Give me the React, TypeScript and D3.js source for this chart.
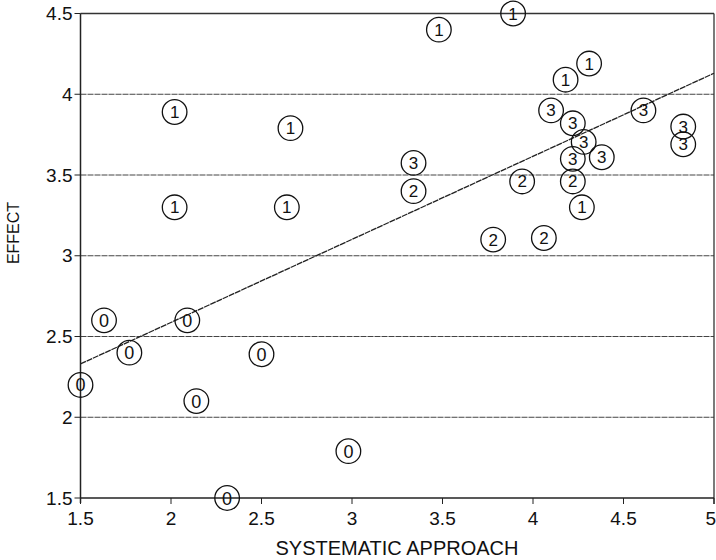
import React from "react";
import * as d3 from "d3";

const xTicks = [1.5, 2, 2.5, 3, 3.5, 4, 4.5, 5];
const yTicks = [1.5, 2, 2.5, 3, 3.5, 4, 4.5];
const gridValues = [2, 2.5, 3, 3.5, 4];

// points: [systematic approach, effect, group label]
const group0X = [1.63, 2.09, 1.77, 2.5, 1.5, 2.14, 2.98, 2.31];
const group0Y = [2.6, 2.6, 2.4, 2.39, 2.2, 2.1, 1.79, 1.5];
const group1X = [3.89, 3.48, 2.02, 2.66, 2.02, 2.64, 4.31, 4.18, 4.27];
const group1Y = [4.5, 4.4, 3.89, 3.79, 3.3, 3.3, 4.19, 4.09, 3.3];
const group2X = [3.34, 3.94, 4.22, 3.78, 4.06];
const group2Y = [3.4, 3.46, 3.46, 3.1, 3.11];
const group3X = [3.34, 4.1, 4.22, 4.28, 4.22, 4.38, 4.61, 4.83, 4.83];
const group3Y = [3.575, 3.9, 3.82, 3.705, 3.6, 3.61, 3.9, 3.8, 3.69];

const fitX = [1.5, 5];
const fitY = [2.33, 4.13];

const xLabel = "SYSTEMATIC APPROACH";
const yLabel = "EFFECT";

export default function App() {
  const W = 716, H = 560;
  const left = 80.5, right = 714, top = 13.5, bottom = 498;
  const x = d3.scaleLinear().domain([1.5, 5]).range([left, right]);
  const y = d3.scaleLinear().domain([1.5, 4.5]).range([bottom, top]);
  const font = "'Liberation Sans', Arial, Helvetica, sans-serif";

  const groups = [
    { label: "0", xs: group0X, ys: group0Y },
    { label: "1", xs: group1X, ys: group1Y },
    { label: "2", xs: group2X, ys: group2Y },
    { label: "3", xs: group3X, ys: group3Y },
  ];

  const line = d3
    .line<number>()
    .x((d, i) => x(fitX[i]))
    .y((d) => y(d));

  return (
    <svg
      width={W}
      height={H}
      style={{ position: "absolute", left: 0, top: 0, background: "#fff" }}
      fontFamily={font}
    >
      {/* grid lines */}
      {gridValues.map((v) => (
        <line
          key={"g" + v}
          x1={left}
          x2={right}
          y1={y(v)}
          y2={y(v)}
          stroke="#444"
          strokeWidth={1}
          strokeDasharray="6,1"
        />
      ))}
      {/* frame */}
      <line x1={left} x2={right} y1={top} y2={top} stroke="#333" strokeWidth={1.3} />
      <line x1={right} x2={right} y1={top} y2={bottom + 6} stroke="#333" strokeWidth={1.3} />
      <line x1={left} x2={right} y1={bottom} y2={bottom} stroke="#222" strokeWidth={1.5} />
      <line x1={left} x2={left} y1={top} y2={bottom + 5} stroke="#222" strokeWidth={1.5} />
      {/* y ticks */}
      {yTicks.map((v) => (
        <g key={"yt" + v}>
          <line x1={left - 6} x2={left} y1={y(v)} y2={y(v)} stroke="#222" strokeWidth={1} />
          <text
            x={left - 8}
            y={y(v)}
            textAnchor="end"
            dominantBaseline="central"
            fontSize={19}
            fill="#111"
          >
            {String(v)}
          </text>
        </g>
      ))}
      {/* x ticks */}
      {xTicks.map((v, i) => (
        <g key={"xt" + v}>
          <line x1={x(v)} x2={x(v)} y1={bottom} y2={bottom + 6} stroke="#222" strokeWidth={1} />
          <text
            x={i === xTicks.length - 1 ? W : x(v)}
            y={bottom + 27}
            textAnchor={i === xTicks.length - 1 ? "end" : "middle"}
            fontSize={19}
            fill="#111"
          >
            {String(v)}
          </text>
        </g>
      ))}
      {/* axis labels */}
      <text x={397} y={555} textAnchor="middle" fontSize={20} fill="#111">
        {xLabel}
      </text>
      <text
        transform={`translate(19, 233) rotate(-90)`}
        textAnchor="middle"
        fontSize={16}
        fill="#111"
      >
        {yLabel}
      </text>
      {/* regression line */}
      <path d={line(fitY) || ""} fill="none" stroke="#222" strokeWidth={1.3} strokeDasharray="6,0.8" />
      {/* points */}
      {groups.map((g) =>
        g.xs.map((xv, i) => (
          <g key={g.label + "-" + i} transform={`translate(${x(xv)},${y(g.ys[i])})`}>
            <circle r={12.3} fill="none" stroke="#111" strokeWidth={1.3} />
            <text
              textAnchor="middle"
              dominantBaseline="central"
              fontSize={g.label === "0" ? 18 : 17}
              fill="#111"
              dy={0.5}
            >
              {g.label}
            </text>
          </g>
        ))
      )}
    </svg>
  );
}
